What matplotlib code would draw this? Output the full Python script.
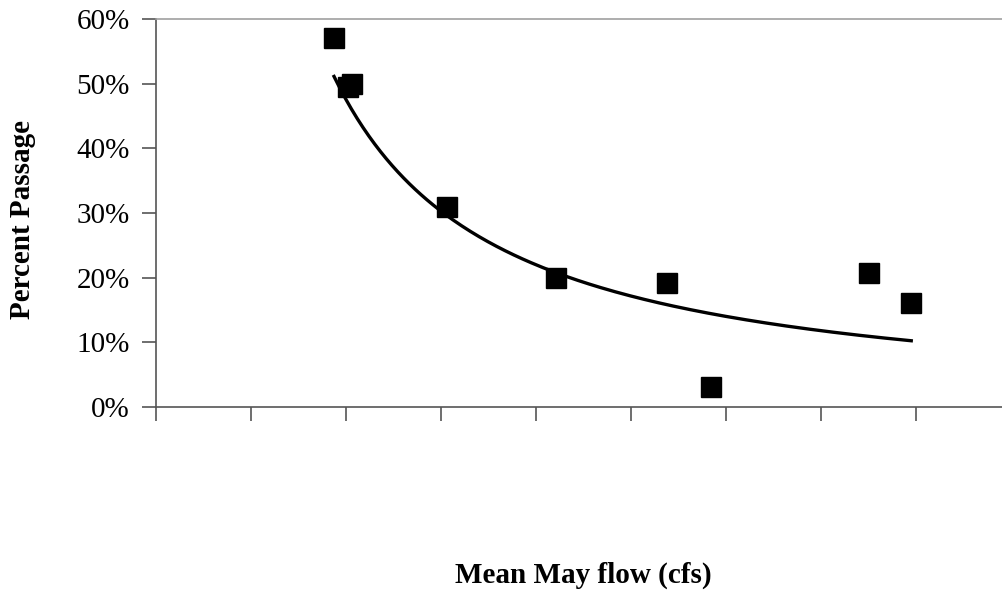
import matplotlib.pyplot as plt
import matplotlib
import numpy as np

# Mean May flow (axis units, tick spacing = 1) and percent passage
flow = [1.874, 2.02, 2.063, 3.063, 4.21, 5.38, 5.84, 7.505, 7.95]
passage = [57.0, 49.5, 50.0, 31.0, 20.0, 19.2, 3.1, 20.7, 16.1]
y_ticks = [0, 10, 20, 30, 40, 50, 60]
x_ticks = list(range(0, 10))

# power trendline fitted in log-log space (like Excel's power trendline)
b, lna = np.polyfit(np.log(flow), np.log(passage), 1)
xt = np.linspace(min(flow), max(flow), 200)
yt = np.exp(lna) * xt ** b

plt.rcParams['font.family'] = ['Liberation Serif', 'DejaVu Serif']

fig = plt.figure(figsize=(10.03, 5.93), dpi=100)
ax = fig.add_axes([156/1003, 1 - 407/593, (1011 - 156)/1003, (407 - 19)/593])

ax.plot(xt, yt, color='black', lw=2.4, zorder=2)
ax.plot(flow, passage, 's', color='black', markersize=14.5, zorder=3)

ax.set_xlim(0, 9)
ax.set_ylim(0, 60)
ax.set_xticks(x_ticks)
ax.set_xticklabels([])
ax.set_yticks(y_ticks)
ax.yaxis.set_major_formatter(matplotlib.ticker.PercentFormatter(decimals=0))

ax.spines['top'].set_color('#a0a0a0')
ax.spines['right'].set_visible(False)
ax.spines['left'].set_color('#555555')
ax.spines['bottom'].set_color('#555555')
for s in ax.spines.values():
    s.set_linewidth(1.2)
ax.tick_params(axis='both', direction='out', length=10, width=1.2, color='#555555',
               labelsize=21, pad=9)

fig.text(23/1003, 1 - 220/593, 'Percent Passage', rotation=90, ha='center', va='center',
         fontsize=21, fontweight='bold')
fig.text(583/1003, 1 - 575/593, 'Mean May flow (cfs)', ha='center', va='center',
         fontsize=21, fontweight='bold')

fig.savefig('out.png', dpi=100)
